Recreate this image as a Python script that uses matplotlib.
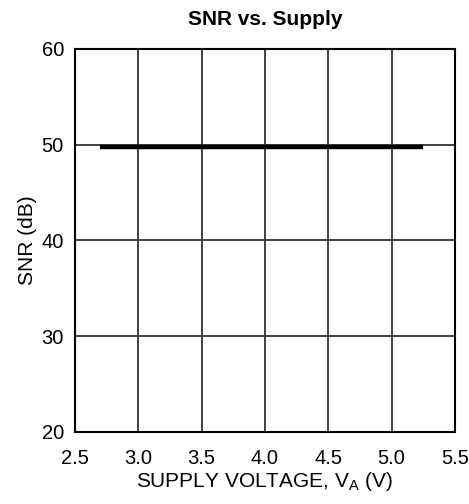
import matplotlib
matplotlib.use("Agg")
import matplotlib.pyplot as plt

plt.rcParams["font.family"] = ["Liberation Sans", "DejaVu Sans"]

# data
supply_v = [2.7, 3.0, 3.5, 4.0, 4.5, 5.0, 5.25]
snr_db = [49.8, 49.8, 49.8, 49.8, 49.8, 49.8, 49.8]

x_ticks = [2.5, 3.0, 3.5, 4.0, 4.5, 5.0, 5.5]
y_ticks = [20, 30, 40, 50, 60]

fig = plt.figure(figsize=(4.69, 5.04), dpi=100)
ax = fig.add_axes([0.16, 0.143, 0.81, 0.760])

ax.plot(supply_v, snr_db, color="black", linewidth=3.2, solid_capstyle="butt", zorder=3)

ax.set_xlim(2.5, 5.5)
ax.set_ylim(20, 60)
ax.set_xticks(x_ticks)
ax.set_xticklabels([f"{t:.1f}" for t in x_ticks])
ax.set_yticks(y_ticks)
ax.grid(True, color="#333333", linewidth=1.3)
ax.tick_params(length=0, labelsize=14.5)
ax.tick_params(axis="x", pad=12)
ax.tick_params(axis="y", pad=8)
for s in ax.spines.values():
    s.set_linewidth(1.5)

ax.set_xlabel("SUPPLY VOLTAGE, V$_\\mathregular{A}$ (V)", fontsize=15, labelpad=2)
ax.set_ylabel("SNR (dB)", fontsize=15, labelpad=3)
ax.set_title("SNR vs. Supply", fontsize=15, fontweight="bold", pad=17)

fig.savefig("out.png", dpi=100)
